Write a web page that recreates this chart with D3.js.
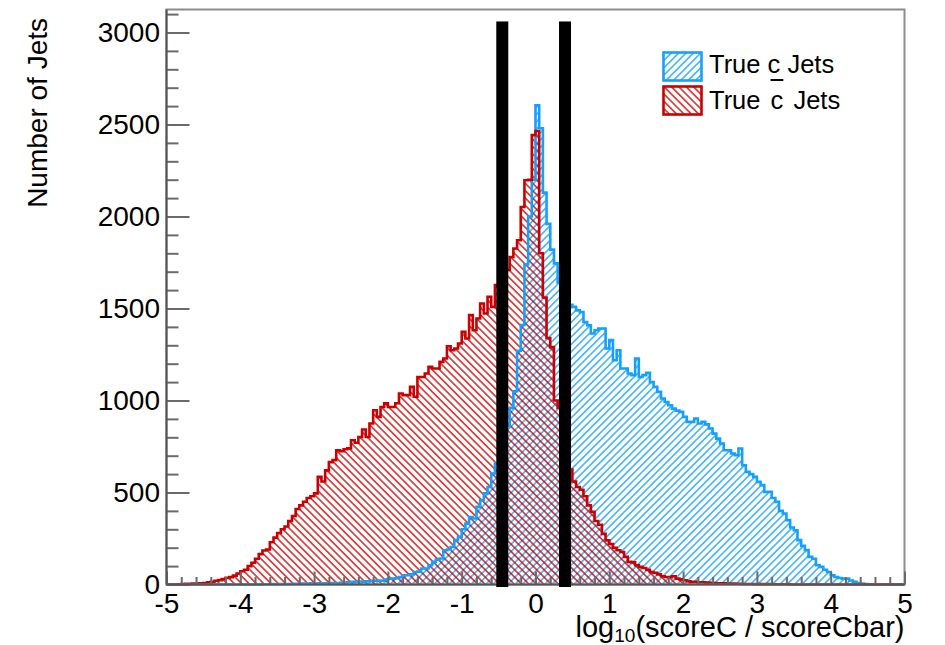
<!DOCTYPE html>
<html>
<head>
<meta charset="utf-8">
<script src="https://cdn.jsdelivr.net/npm/d3@7"></script>
<style>
  html, body { margin: 0; padding: 0; background: #fff; }
  svg { display: block; }
  text { font-family: "Liberation Sans", Arial, Helvetica, sans-serif; fill: #000; }
</style>
</head>
<body>
<svg id="chart" width="945" height="645"></svg>
<script>
// ---------------- data ----------------
const xMin = -5, xMax = 5, nBins = 200;      // 0.05 wide bins
// True c jets (blue)
const cValues = [
  0,0,0,0,0,0,0,0,0,0,
  0,0,0,0,0,0,0,0,0,0,
  0,0,0,0,0,0,1,1,2,2,
  2,3,3,3,4,4,5,5,5,6,
  5,6,7,7,8,6,8,9,10,12,
  14,14,16,15,17,20,20,22,20,27,
  32,32,34,40,50,50,55,68,70,87,
  87,105,123,135,141,186,190,204,241,259,
  300,331,367,359,422,458,495,530,603,658,
  720,790,860,960,1050,1270,1410,1740,2000,2200,
  2605,2480,2130,1960,1820,1745,1640,1580,1545,1520,
  1509,1490,1481,1427,1409,1364,1382,1391,1391,1283,
  1328,1219,1273,1174,1174,1147,1138,1228,1128,1138,
  1150,1100,1074,1047,1011,992,974,956,945,938,
  911,884,884,902,875,884,870,848,820,793,
  766,730,730,712,703,739,648,612,600,585,
  558,540,503,504,470,449,400,386,350,310,
  295,241,210,187,150,140,105,96,80,68,
  50,41,35,32,32,22,14,8,5,2,
  1,0,0,0,0,0,0,0,0,0
];
// True c-bar jets (red)
const cbarValues = [
  0,0,0,1,2,4,4,5,5,6,
  8,12,14,20,24,30,36,40,48,60,
  72,80,100,118,140,165,185,190,230,255,
  280,300,315,345,372,410,430,450,470,480,
  495,585,560,620,665,676,730,725,735,740,
  784,770,802,842,802,875,947,911,965,985,
  965,965,985,1038,1029,1029,1074,1020,1128,1128,
  1147,1183,1174,1174,1210,1228,1295,1273,1283,1310,
  1373,1337,1464,1382,1446,1527,1473,1563,1509,1627,
  1660,1690,1710,1780,1826,1871,2052,2197,2200,2442,
  2465,1800,1560,1340,1290,1000,960,820,700,625,
  560,530,515,480,430,395,345,325,275,240,
  220,200,186,177,150,123,120,105,96,90,
  80,68,63,55,45,41,40,45,32,28,
  23,18,15,14,12,12,10,9,8,7,
  6,6,5,5,4,4,3,3,3,2,
  2,2,2,2,1,1,1,1,1,0,
  0,0,0,0,0,0,0,0,0,0,
  0,0,0,0,0,0,0,0,0,0,
  0,0,0,0,0,0,0,0,0,0
];
const xTickValues = [-5,-4,-3,-2,-1,0,1,2,3,4,5];
const yTickValues = [0,500,1000,1500,2000,2500,3000];
const cutValues = [-0.45, 0.40];
const cutTop = 3060;
const legendLabels = ["True c Jets", "True c Jets"];
const xTitle = ["log", "10", "(scoreC / scoreCbar)"];
const yTitle = "Number of Jets";

// ---------------- layout ----------------
const blue = "#14a0ff", red = "#cc0000";
const svg = d3.select("#chart");
const x = d3.scaleLinear().domain([xMin, xMax]).range([166.5, 904.5]);
const y = d3.scaleLinear().domain([0, 3125]).range([584.5, 9.5]);
const binW = (xMax - xMin) / nBins;

// hatch patterns
const defs = svg.append("defs");
function hatch(id, color, angle) {
  const p = defs.append("pattern").attr("id", id)
    .attr("patternUnits", "userSpaceOnUse").attr("width", 5.2).attr("height", 5.2)
    .attr("patternTransform", `rotate(${angle})`);
  p.append("line").attr("x1", 2.6).attr("y1", -1).attr("x2", 2.6).attr("y2", 6.2)
    .attr("stroke", color).attr("stroke-width", 1.3);
}
hatch("hBlue", blue, 45);
hatch("hRed", red, -45);

function stepPoints(vals) {
  const pts = [[xMin, 0]];
  vals.forEach((v, i) => pts.push([xMin + i * binW, v]));
  pts.push([xMax, vals[vals.length - 1]]);
  pts.push([xMax, 0]);
  return pts;
}
const area = d3.area().x(d => x(d[0])).y0(y(0)).y1(d => y(d[1])).curve(d3.curveStepAfter);
const line = d3.line().x(d => x(d[0])).y(d => y(d[1])).curve(d3.curveStepAfter);

const gH = svg.append("g");
[[cValues, "hBlue"], [cbarValues, "hRed"]].forEach(([vals, pat]) => {
  gH.append("path").attr("d", area(stepPoints(vals))).attr("fill", `url(#${pat})`);
});
[[cValues, blue], [cbarValues, red]].forEach(([vals, col]) => {
  gH.append("path").attr("d", line(stepPoints(vals)))
    .attr("fill", "none").attr("stroke", col).attr("stroke-width", 2.6)
    .attr("stroke-linejoin", "miter");
});

// frame
svg.append("rect").attr("x", x(xMin)).attr("y", y(3125))
  .attr("width", x(xMax) - x(xMin)).attr("height", y(0) - y(3125))
  .attr("fill", "none").attr("stroke", "#8c8c8c").attr("stroke-width", 2);

// axes
const tickColor = "#6a6a6a";
const xMinor = d3.range(-5, 5.0001, 0.2).filter(v => Math.abs(v - Math.round(v)) > 1e-6);
const yMinor = d3.range(0, 3101, 100).filter(v => v % 500 !== 0);
const intFmt = d => String(Math.round(d));

const gx = svg.append("g").attr("transform", `translate(0,${y(0)})`)
  .call(d3.axisBottom(x).tickValues(xTickValues).tickSize(-13).tickPadding(9).tickFormat(intFmt));
gx.append("g").call(d3.axisBottom(x).tickValues(xMinor).tickSize(-7.5).tickFormat(""));
const gy = svg.append("g").attr("transform", `translate(${x(xMin)},0)`)
  .call(d3.axisLeft(y).tickValues(yTickValues).tickSize(-23).tickPadding(6.5).tickFormat(intFmt));
gy.append("g").call(d3.axisLeft(y).tickValues(yMinor).tickSize(-12).tickFormat(""));
svg.selectAll(".domain").remove();
svg.selectAll(".tick line").attr("stroke", tickColor).attr("stroke-width", 2);
svg.selectAll(".tick text").style("font-size", "28px").attr("fill", "#000")
  .style("font-family", '"Liberation Sans", Arial, Helvetica, sans-serif');
// axis lines
svg.append("line").attr("x1", x(xMin)).attr("x2", x(xMax)).attr("y1", y(0)).attr("y2", y(0))
  .attr("stroke", "#555").attr("stroke-width", 2);
svg.append("line").attr("x1", x(xMin)).attr("x2", x(xMin)).attr("y1", y(0)).attr("y2", y(3125))
  .attr("stroke", "#555").attr("stroke-width", 2);

// cut lines
svg.append("g").selectAll("rect").data(cutValues).join("rect")
  .attr("x", d => x(d) - 6).attr("width", 12)
  .attr("y", y(cutTop)).attr("height", y(0) - y(cutTop) + 2.5)
  .attr("fill", "#000");

// axis titles
const tx = svg.append("text").attr("x", 904.5).attr("y", 636.5)
  .attr("text-anchor", "end").style("font-size", "29px");
tx.append("tspan").text(xTitle[0]);
tx.append("tspan").attr("dy", 5).style("font-size", "19px").text(xTitle[1]);
tx.append("tspan").attr("dy", -5).text(xTitle[2]);

svg.append("text").attr("transform", "translate(47,18) rotate(-90)")
  .attr("text-anchor", "end").style("font-size", "28px").text(yTitle);

// legend
const lg = svg.append("g");
[[blue, "hBlue"], [red, "hRed"]].forEach(([col, pat], i) => {
  lg.append("rect").attr("x", 663.5).attr("y", 52.5 + 34 * i).attr("width", 38).attr("height", 28)
    .attr("fill", "#fff");
  lg.append("rect").attr("x", 663.5).attr("y", 52.5 + 34 * i).attr("width", 38).attr("height", 28)
    .attr("fill", `url(#${pat})`).attr("stroke", col).attr("stroke-width", 2.6);
});
lg.append("text").attr("x", 709).attr("y", 72.5).style("font-size", "25.5px").text(legendLabels[0]);
const t2 = lg.append("text").attr("x", 709).attr("y", 108.5).style("font-size", "25.5px");
const parts = legendLabels[1].split(" ");
t2.append("tspan").text(parts[0] + " ");
t2.append("tspan").attr("dx", 3).text(parts[1]);
t2.append("tspan").attr("dx", 3).text(" " + parts[2]);
// overbar on the c
const node = t2.node();
const cIndex = parts[0].length + 1;
const s = node.getStartPositionOfChar(cIndex), e = node.getEndPositionOfChar(cIndex);
lg.append("line").attr("x1", s.x).attr("x2", e.x).attr("y1", 80).attr("y2", 80)
  .attr("stroke", "#000").attr("stroke-width", 2);
</script>
</body>
</html>
